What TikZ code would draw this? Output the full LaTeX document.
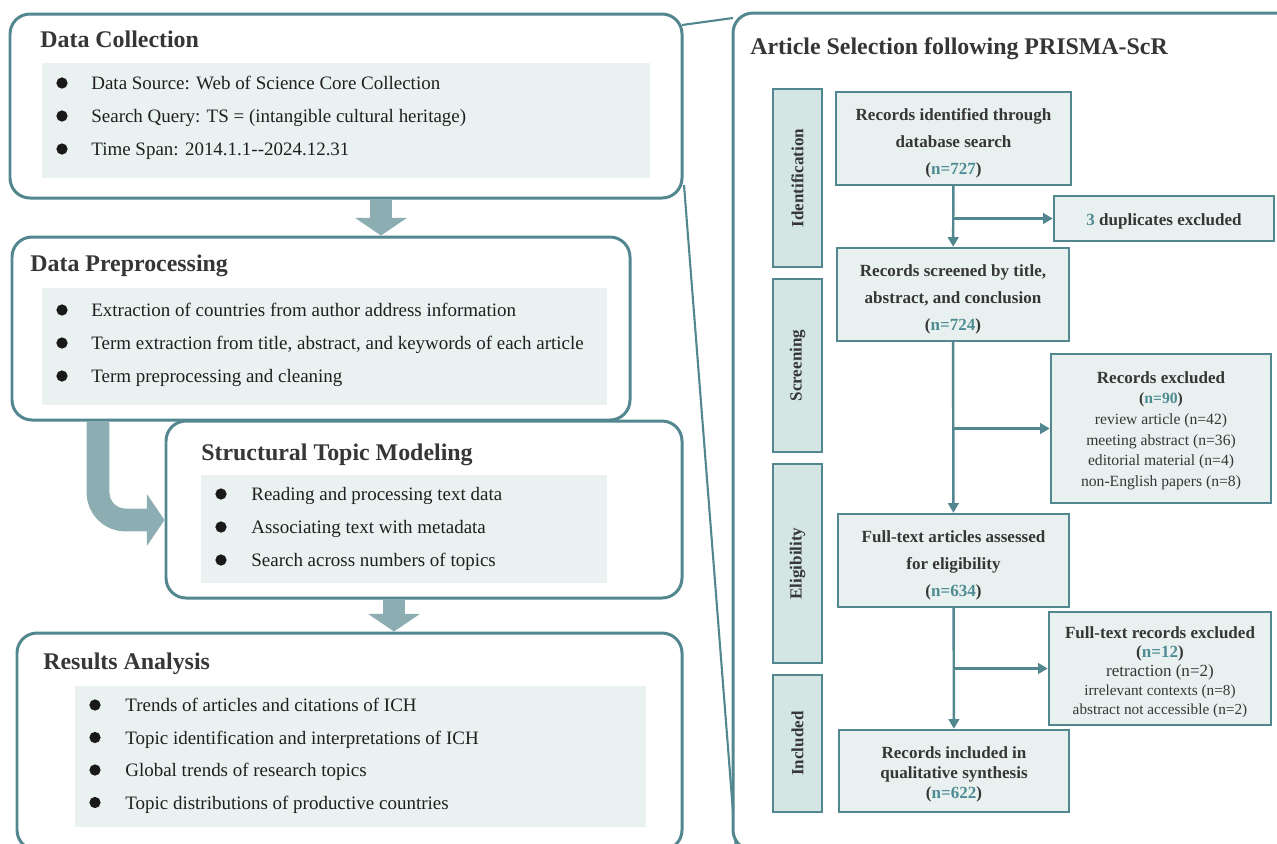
\documentclass[tikz,border=0pt]{standalone}
\usepackage{fontspec}
\setmainfont{Liberation Serif}
\usetikzlibrary{arrows.meta,fit,positioning}
\definecolor{tealc}{HTML}{52878F}
\definecolor{numc}{HTML}{4F8B93}
\definecolor{innerc}{HTML}{EAF2F1}
\definecolor{boxc}{HTML}{E8F1F0}
\definecolor{stagec}{HTML}{D3E6E3}
\definecolor{arrowc}{HTML}{8CAEB3}
\definecolor{textc}{HTML}{363636}
\newcommand{\nn}[1]{(\textcolor{numc}{#1})}
\begin{document}
\begin{tikzpicture}[x=0.02cm, y=-0.02cm,
    panel/.style={draw=tealc, line width=1.7pt, rounded corners=0.4cm, fill=white, inner sep=0pt},
    heading/.style={anchor=mid west, inner sep=0pt, yshift=-2pt, text=textc, font=\fontsize{13.6}{16}\selectfont\bfseries},
    item/.style={anchor=mid west, inner sep=0pt, yshift=-1.5pt, text=black!88, font=\fontsize{10.8}{13}\selectfont},
    dot/.style={fill=black!90},
    bigarrow/.style={draw=arrowc, line width=13pt, -{Triangle[width=29pt,length=10pt]}},
    zoomline/.style={draw=tealc, line width=1.2pt},
    prbox/.style={draw=tealc, line width=1.4pt, fill=boxc, inner sep=0pt},
    prtext/.style={align=center, inner sep=0pt, yshift=-2.8pt, text=textc, font=\fontsize{9.7}{15.3}\selectfont\bfseries},
    stage/.style={draw=tealc, line width=1.4pt, fill=stagec, inner sep=0pt},
    stagetext/.style={rotate=90, text=textc, font=\fontsize{9.7}{12}\selectfont\bfseries},
    flow/.style={draw=tealc, line width=1.4pt, -{Triangle[width=6pt,length=5.5pt]}}
]
    \useasboundingbox (0,0) rectangle (1277,843);
    \coordinate (dcTop) at (682,25);
    \coordinate (prTop) at (733,18);
    \coordinate (dcBot) at (684,185);
    \coordinate (prBot) at (736,850);
    \draw[zoomline] (dcTop) -- (prTop) (dcBot) -- (prBot);

    \node[panel, fit={(10,14) (682,198)}] (dc) {};
    \fill[innerc] (42,63) rectangle (650,178);
    \node[heading] (dct) at (40,40) {Data Collection};
    \foreach \t [count=\i] in {Data Source: Web of Science Core Collection,
        Search Query: TS = (intangible cultural heritage),
        Time Span: 2014.1.1{-}{-}2024.12.31}
    {
        \fill[dot] (62,50+33*\i) circle[radius=3.2pt];
        \node[item] (dc\i) at (91,50+33*\i) {\t};
    }

    \node[panel, fit={(12,237) (630,420)}] (dp) {};
    \fill[innerc] (42,288) rectangle (607,405);
    \node[heading] (dpt) at (30,264) {Data Preprocessing};
    \foreach \t [count=\i] in {Extraction of countries from author address information,
        {Term extraction from title, abstract, and keywords of each article},
        Term preprocessing and cleaning}
    {
        \fill[dot] (62,277+33*\i) circle[radius=3.2pt];
        \node[item] (dp\i) at (91,277+33*\i) {\t};
    }

    \node[panel, fit={(166,421) (682,598)}] (stm) {};
    \fill[innerc] (201,475) rectangle (607,583);
    \node[heading] (stmt) at (201,453) {Structural Topic Modeling};
    \foreach \t [count=\i] in {Reading and processing text data,
        Associating text with metadata,
        Search across numbers of topics}
    {
        \fill[dot] (221,461+33*\i) circle[radius=3.2pt];
        \node[item] (stm\i) at (251,461+33*\i) {\t};
    }

    \node[panel, fit={(17,633) (682,850)}] (ra) {};
    \fill[innerc] (75,686) rectangle (646,827);
    \node[heading] (rat) at (43,662) {Results Analysis};
    \foreach \t [count=\i] in {Trends of articles and citations of ICH,
        Topic identification and interpretations of ICH,
        Global trends of research topics,
        Topic distributions of productive countries}
    {
        \fill[dot] (95,672.5+32.5*\i) circle[radius=3.2pt];
        \node[item] (ra\i) at (125,672.5+32.5*\i) {\t};
    }

    \coordinate (a1) at (381,0);
    \coordinate (a2) at (98,520);
    \coordinate (a3) at (394,0);
    \draw[bigarrow] (dc.south -| a1) -- (dp.north -| a1);
    \draw[bigarrow, rounded corners=0.55cm] (dp.south -| a2) |- (stm.west |- a2);
    \draw[bigarrow] (stm.south -| a3) -- (ra.north -| a3);

    \node[panel, fit={(733,13) (1310,850)}] (pr) {};
    \node[heading] (prt) at (750,47) {Article Selection following PRISMA-ScR};

    \node[stage, fit={(773,89) (822,267)}] (s1) {};
    \node[stage, fit={(773,279) (822,452)}] (s2) {};
    \node[stage, fit={(773,464) (822,663)}] (s3) {};
    \node[stage, fit={(773,675) (822,812)}] (s4) {};
    \node[stagetext] (s1t) at (s1) {Identification};
    \node[stagetext] (s2t) at (s2) {Screening};
    \node[stagetext] (s3t) at (s3) {Eligibility};
    \node[stagetext] (s4t) at (s4) {Included};

    \node[prbox, fit={(836,92) (1071,185)}] (b1) {};
    \node[prbox, fit={(1054,196) (1274,241)}] (dup) {};
    \node[prbox, fit={(837,248) (1069,341)}] (b2) {};
    \node[prbox, fit={(1051,354) (1271,503)}] (ex1) {};
    \node[prbox, fit={(838,514) (1069,607)}] (b3) {};
    \node[prbox, fit={(1049,612) (1271,725)}] (ex2) {};
    \node[prbox, fit={(839,730) (1069,812)}] (b4) {};

    \node[prtext] (b1t) at (b1) {Records identified through\\database search\\\nn{n=727}};
    \node[prtext, yshift=1.1pt] (dupt) at (dup) {\textcolor{numc}{3} duplicates excluded};
    \node[prtext] (b2t) at (b2) {Records screened by title,\\abstract, and conclusion\\\nn{n=724}};
    \node[prtext, yshift=1.6pt, font=\fontsize{8.9}{11.8}\selectfont] (ex1t) at (ex1)
        {{\fontsize{9.7}{11.8}\selectfont\bfseries Records excluded}\\{\bfseries\nn{n=90}}\\review article (n=42)\\meeting abstract (n=36)\\editorial material (n=4)\\non-English papers (n=8)};
    \node[prtext] (b3t) at (b3) {Full-text articles assessed\\for eligibility\\\nn{n=634}};
    \node[prtext, yshift=0.6pt, font=\fontsize{8.7}{10.9}\selectfont] (ex2t) at (ex2)
        {{\fontsize{9.7}{10.9}\selectfont\bfseries Full-text records excluded}\\{\fontsize{9.7}{10.9}\selectfont\bfseries\nn{n=12}}\\{\fontsize{9.7}{10.9}\selectfont retraction (n=2)}\\irrelevant contexts (n=8)\\abstract not accessible (n=2)};
    \node[prtext, yshift=1.1pt, font=\fontsize{9.7}{11.4}\selectfont\bfseries] (b4t) at (b4) {Records included in\\qualitative synthesis\\\nn{n=622}};

    \draw[flow] (b1) -- (b2);
    \draw[flow] (b1.south |- dup) -- (dup);
    \draw[flow] (b2) -- (b3);
    \draw[flow] (b2.south |- ex1) -- (ex1);
    \draw[flow] (b3) -- (b4);
    \draw[flow] (b3.south |- ex2) -- (ex2);
\end{tikzpicture}
\end{document}
